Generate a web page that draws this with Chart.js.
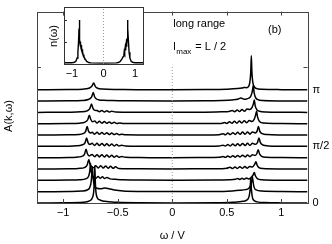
<!DOCTYPE html>
<html>
<head>
<meta charset="utf-8">
<script src="https://cdn.jsdelivr.net/npm/chart.js@4/dist/chart.umd.min.js"></script>
<style>
  html, body { margin: 0; padding: 0; background: #fff; }
  #wrap { position: relative; width: 332px; height: 244px; }
  #main { position: absolute; left: 0; top: 0; }
  #inset { position: absolute; left: 44px; top: 4px; }
</style>
</head>
<body>
<div id="wrap">
  <canvas id="main" width="332" height="244"></canvas>
  <canvas id="inset" width="104" height="76"></canvas>
</div>
<script>
// spectral function A(k,w), one curve per k (k = 0 ... pi in 10 steps), [w, A]
const A_k0 = [[-1.24,0],[-0.95,0.02],[-0.82,0.06],[-0.76,0.18],[-0.73,0.5],[-0.72,1.0],[-0.714,2.0],[-0.71,3.3],[-0.706,2.0],[-0.70,1.0],[-0.69,0.5],[-0.67,0.3],[-0.62,0.15],[-0.5,0.06],[-0.3,0.02],[0,0.01],[0.4,0.02],[0.55,0.06],[0.65,0.15],[0.69,0.3],[0.705,0.6],[0.714,1.2],[0.72,2.2],[0.726,1.2],[0.735,0.5],[0.75,0.22],[0.78,0.1],[0.85,0.04],[1.0,0.01],[1.24,0]];
const A_k1 = [[-1.24,0],[-0.95,0.02],[-0.83,0.06],[-0.78,0.15],[-0.755,0.4],[-0.743,0.9],[-0.737,1.6],[-0.733,2.2],[-0.728,1.5],[-0.72,0.8],[-0.71,0.45],[-0.69,0.3],[-0.66,0.25],[-0.62,0.32],[-0.58,0.26],[-0.53,0.15],[-0.45,0.06],[-0.3,0.02],[0,0.01],[0.4,0.02],[0.55,0.07],[0.62,0.12],[0.67,0.18],[0.7,0.28],[0.72,0.6],[0.73,1.0],[0.735,1.3],[0.742,0.8],[0.75,0.4],[0.77,0.15],[0.82,0.05],[1.0,0.01],[1.24,0]];
const A_k2 = [[-1.24,0],[-0.95,0.02],[-0.85,0.05],[-0.79,0.15],[-0.765,0.4],[-0.755,0.9],[-0.75,1.5],[-0.744,0.9],[-0.735,0.45],[-0.72,0.3],[-0.70,0.18],[-0.68,0.34],[-0.66,0.18],[-0.64,0.32],[-0.62,0.16],[-0.60,0.26],[-0.57,0.13],[-0.52,0.09],[-0.45,0.05],[-0.3,0.02],[0,0.01],[0.4,0.02],[0.52,0.05],[0.58,0.1],[0.6,0.16],[0.62,0.08],[0.64,0.18],[0.66,0.1],[0.68,0.2],[0.70,0.13],[0.72,0.22],[0.74,0.45],[0.752,0.7],[0.762,0.4],[0.78,0.15],[0.82,0.05],[1.0,0.01],[1.24,0]];
const A_k3 = [[-1.24,0],[-0.95,0.02],[-0.86,0.05],[-0.80,0.15],[-0.78,0.35],[-0.765,0.85],[-0.755,0.45],[-0.74,0.22],[-0.72,0.12],[-0.70,0.3],[-0.678,0.09],[-0.655,0.29],[-0.633,0.08],[-0.61,0.27],[-0.588,0.07],[-0.565,0.24],[-0.543,0.06],[-0.52,0.19],[-0.49,0.04],[-0.45,0.03],[-0.3,0.02],[0,0.01],[0.3,0.02],[0.45,0.03],[0.50,0.06],[0.53,0.16],[0.553,0.04],[0.575,0.18],[0.598,0.05],[0.62,0.2],[0.643,0.06],[0.665,0.22],[0.688,0.07],[0.71,0.23],[0.735,0.18],[0.755,0.4],[0.767,0.65],[0.778,0.35],[0.795,0.12],[0.83,0.04],[1.0,0.01],[1.24,0]];
const A_k4 = [[-1.24,0],[-0.95,0.02],[-0.88,0.05],[-0.83,0.12],[-0.805,0.3],[-0.79,0.75],[-0.778,0.35],[-0.76,0.16],[-0.735,0.28],[-0.712,0.08],[-0.69,0.27],[-0.668,0.07],[-0.645,0.26],[-0.622,0.06],[-0.60,0.24],[-0.578,0.05],[-0.555,0.21],[-0.532,0.04],[-0.51,0.17],[-0.488,0.03],[-0.465,0.11],[-0.43,0.03],[-0.3,0.01],[0,0],[0.3,0.01],[0.43,0.03],[0.465,0.1],[0.488,0.03],[0.51,0.15],[0.532,0.04],[0.555,0.18],[0.578,0.05],[0.60,0.2],[0.622,0.06],[0.645,0.22],[0.668,0.07],[0.69,0.24],[0.712,0.09],[0.735,0.25],[0.76,0.2],[0.775,0.35],[0.788,0.7],[0.80,0.35],[0.82,0.12],[0.86,0.04],[1.0,0.01],[1.24,0]];
const A_k5 = [[-1.24,0],[-0.95,0.02],[-0.88,0.05],[-0.83,0.12],[-0.80,0.3],[-0.785,0.75],[-0.773,0.35],[-0.755,0.16],[-0.735,0.27],[-0.712,0.08],[-0.69,0.27],[-0.668,0.07],[-0.645,0.26],[-0.622,0.06],[-0.60,0.24],[-0.578,0.05],[-0.555,0.2],[-0.532,0.04],[-0.51,0.16],[-0.488,0.03],[-0.465,0.1],[-0.43,0.03],[-0.3,0.01],[0,0],[0.3,0.01],[0.43,0.03],[0.465,0.1],[0.488,0.03],[0.51,0.16],[0.532,0.04],[0.555,0.2],[0.578,0.05],[0.60,0.24],[0.622,0.06],[0.645,0.26],[0.668,0.07],[0.69,0.27],[0.712,0.08],[0.735,0.27],[0.762,0.18],[0.782,0.35],[0.795,0.75],[0.807,0.35],[0.83,0.12],[0.88,0.04],[1.0,0.01],[1.24,0]];
const A_k6 = [[-1.24,0],[-0.95,0.02],[-0.86,0.05],[-0.82,0.12],[-0.795,0.3],[-0.78,0.75],[-0.768,0.35],[-0.75,0.18],[-0.735,0.25],[-0.712,0.08],[-0.69,0.24],[-0.668,0.07],[-0.645,0.22],[-0.622,0.06],[-0.60,0.2],[-0.578,0.05],[-0.555,0.17],[-0.532,0.04],[-0.51,0.13],[-0.488,0.03],[-0.465,0.08],[-0.43,0.02],[-0.3,0.01],[0,0],[0.3,0.01],[0.43,0.03],[0.465,0.11],[0.488,0.03],[0.51,0.17],[0.532,0.04],[0.555,0.21],[0.578,0.05],[0.60,0.24],[0.622,0.06],[0.645,0.26],[0.668,0.07],[0.69,0.27],[0.712,0.08],[0.735,0.28],[0.76,0.18],[0.778,0.35],[0.79,0.75],[0.802,0.35],[0.825,0.12],[0.87,0.04],[1.0,0.01],[1.24,0]];
const A_k7 = [[-1.24,0],[-0.95,0.02],[-0.85,0.05],[-0.80,0.14],[-0.775,0.35],[-0.76,0.75],[-0.748,0.4],[-0.73,0.18],[-0.71,0.23],[-0.69,0.06],[-0.668,0.21],[-0.645,0.05],[-0.622,0.19],[-0.60,0.04],[-0.578,0.16],[-0.555,0.03],[-0.532,0.12],[-0.51,0.02],[-0.48,0.07],[-0.45,0.02],[-0.3,0.01],[0,0.01],[0.3,0.02],[0.45,0.03],[0.48,0.1],[0.50,0.03],[0.525,0.17],[0.548,0.04],[0.57,0.21],[0.593,0.05],[0.615,0.24],[0.638,0.07],[0.66,0.26],[0.683,0.09],[0.705,0.28],[0.73,0.2],[0.752,0.4],[0.765,0.8],[0.773,1.1],[0.782,0.6],[0.80,0.2],[0.84,0.06],[1.0,0.01],[1.24,0]];
const A_k8 = [[-1.24,0],[-0.95,0.02],[-0.84,0.05],[-0.78,0.14],[-0.755,0.35],[-0.74,0.75],[-0.728,0.38],[-0.71,0.18],[-0.69,0.16],[-0.668,0.05],[-0.645,0.16],[-0.622,0.04],[-0.60,0.14],[-0.578,0.03],[-0.555,0.11],[-0.52,0.03],[-0.45,0.02],[-0.3,0.01],[0,0.01],[0.3,0.02],[0.45,0.05],[0.52,0.08],[0.55,0.16],[0.572,0.06],[0.595,0.21],[0.617,0.08],[0.64,0.25],[0.662,0.1],[0.685,0.29],[0.71,0.26],[0.732,0.45],[0.745,0.8],[0.752,1.1],[0.76,0.6],[0.775,0.25],[0.80,0.1],[0.86,0.03],[1.0,0.01],[1.24,0]];
const A_k9 = [[-1.24,0],[-0.95,0.02],[-0.83,0.05],[-0.77,0.14],[-0.74,0.35],[-0.724,0.75],[-0.712,0.38],[-0.695,0.18],[-0.67,0.1],[-0.63,0.07],[-0.55,0.04],[-0.4,0.02],[0,0.01],[0.3,0.02],[0.45,0.05],[0.55,0.1],[0.6,0.16],[0.63,0.27],[0.66,0.15],[0.69,0.22],[0.715,0.35],[0.73,0.7],[0.738,1.1],[0.743,1.4],[0.75,0.8],[0.762,0.35],[0.785,0.12],[0.83,0.04],[1.0,0.01],[1.24,0]];
const A_k10 = [[-1.24,0],[-0.95,0.02],[-0.82,0.05],[-0.765,0.13],[-0.738,0.3],[-0.72,0.6],[-0.706,0.3],[-0.685,0.13],[-0.64,0.06],[-0.5,0.03],[-0.3,0.01],[0,0.01],[0.3,0.02],[0.5,0.05],[0.6,0.1],[0.64,0.15],[0.66,0.2],[0.68,0.18],[0.70,0.3],[0.712,0.7],[0.72,1.6],[0.725,3.0],[0.73,1.6],[0.738,0.7],[0.75,0.3],[0.77,0.12],[0.82,0.04],[1.0,0.01],[1.24,0]];
const spectra = [A_k0, A_k1, A_k2, A_k3, A_k4, A_k5, A_k6, A_k7, A_k8, A_k9, A_k10];

// k labels on the right axis (curve index -> label)
const kTickIndex = [0, 5, 10];
const kTickLabels = ['0', 'π/2', 'π'];
const omegaTicks = [-1, -0.5, 0, 0.5, 1];

// inset: momentum distribution n(w)
const nOmega = [[-1.25,0.01],[-1.0,0.01],[-0.92,0.02],[-0.87,0.05],[-0.835,0.12],[-0.81,0.25],[-0.79,0.5],[-0.775,0.8],[-0.765,1.0],[-0.758,0.8],[-0.75,0.55],[-0.742,0.44],[-0.735,0.5],[-0.728,0.38],[-0.72,0.46],[-0.712,0.34],[-0.704,0.42],[-0.696,0.3],[-0.688,0.37],[-0.68,0.27],[-0.672,0.32],[-0.664,0.23],[-0.656,0.27],[-0.645,0.2],[-0.62,0.15],[-0.58,0.09],[-0.53,0.04],[-0.47,0.015],[-0.4,0.005],[0,0],
  [0.4,0.005],[0.47,0.015],[0.53,0.04],[0.58,0.09],[0.62,0.15],[0.645,0.2],[0.656,0.27],[0.664,0.23],[0.672,0.32],[0.68,0.27],[0.688,0.37],[0.696,0.3],[0.704,0.42],[0.712,0.34],[0.72,0.46],[0.728,0.38],[0.735,0.5],[0.742,0.44],[0.75,0.55],[0.758,0.8],[0.765,1.0],[0.775,0.8],[0.79,0.5],[0.81,0.25],[0.835,0.12],[0.87,0.05],[0.92,0.02],[1.0,0.01],[1.25,0.01]];
const insetTicks = [-1, 0, 1];

const FONT = "'Liberation Sans', Arial, Helvetica, sans-serif";
const minus = v => String(v).replace('-', '\u2212');

let datasets = spectra.map(function (curve, i) {
  return {
    data: curve.map(p => ({ x: p[0], y: p[1] + i })),
    showLine: true,
    borderColor: '#000',
    borderWidth: 1.5,
    pointRadius: 0,
    cubicInterpolationMode: 'monotone',
    yAxisID: 'y'
  };
});
// dotted line at w = 0
datasets.unshift({
  data: [{ x: 0, y: 0 }, { x: 0, y: 12.2 }],
  showLine: true,
  borderColor: '#999',
  borderWidth: 1,
  borderDash: [1, 2],
  pointRadius: 0,
  yAxisID: 'y'
});

const mainDecor = {
  id: 'mainDecor',
  afterDraw(chart) {
    const ctx = chart.ctx;
    const a = chart.chartArea;
    const xs = chart.scales.x, ys = chart.scales.y;
    ctx.save();
    ctx.strokeStyle = '#444';
    ctx.lineWidth = 1;
    ctx.strokeRect(Math.round(a.left) + 0.5, Math.round(a.top) + 0.5, Math.round(a.right - a.left), Math.round(a.bottom - a.top));
    ctx.beginPath();
    omegaTicks.forEach(function (t) {
      const px = Math.round(xs.getPixelForValue(t)) + 0.5;
      ctx.moveTo(px, a.top); ctx.lineTo(px, a.top + 4);
      ctx.moveTo(px, a.bottom); ctx.lineTo(px, a.bottom - 4);
    });
    const py = Math.round(ys.getPixelForValue(12)) + 0.5;
    ctx.moveTo(a.left, py); ctx.lineTo(a.left + 4, py);
    ctx.moveTo(a.right, py); ctx.lineTo(a.right - 4, py);
    ctx.stroke();

    ctx.fillStyle = '#000';
    ctx.font = '11px ' + FONT;
    ctx.textBaseline = 'alphabetic';
    ctx.textAlign = 'left';
    const x0 = xs.getPixelForValue(0);
    ctx.fillText('long range', x0 + 1, 27);
    ctx.fillText('l', x0 + 1, 50);
    ctx.fillText('= L / 2', x0 + 23, 50);
    ctx.font = '8px ' + FONT;
    ctx.fillText('max', x0 + 4, 54);
    ctx.font = '11px ' + FONT;
    ctx.fillText('(b)', 268, 33);
    ctx.textAlign = 'center';
    ctx.fillText('\u03c9 / V', (a.left + a.right) / 2, 239);
    ctx.translate(12, 116);
    ctx.rotate(-Math.PI / 2);
    ctx.fillText('A(k,\u03c9)', 0, 0);
    ctx.restore();
  }
};

new Chart(document.getElementById('main'), {
  type: 'scatter',
  data: { datasets: datasets },
  options: {
    responsive: false,
    animation: false,
    events: [],
    layout: { padding: { top: 3, left: 0, right: 0, bottom: 0 } },
    plugins: { legend: { display: false }, tooltip: { enabled: false } },
    scales: {
      x: {
        type: 'linear', position: 'bottom', min: -1.24, max: 1.24,
        afterBuildTicks: s => { s.ticks = omegaTicks.map(v => ({ value: v })); },
        grid: { display: false, drawTicks: false },
        border: { display: false },
        ticks: { padding: 3, color: '#000', font: { size: 11, family: FONT }, autoSkip: false, maxRotation: 0, callback: v => minus(v) },
        afterFit: s => { s.height = 41; }
      },
      y: {
        type: 'linear', position: 'left', min: 0, max: 16.9,
        grid: { display: false, drawTicks: false },
        border: { display: false },
        ticks: { display: false },
        afterFit: s => { s.width = 37; }
      },
      yr: {
        type: 'linear', position: 'right', min: 0, max: 16.9,
        afterBuildTicks: s => { s.ticks = kTickIndex.map(v => ({ value: v })); },
        grid: { display: false, drawTicks: false },
        border: { display: false },
        ticks: { padding: 5, color: '#000', autoSkip: false, font: { size: 11, family: FONT },
          callback: v => kTickLabels[kTickIndex.indexOf(v)] },
        afterFit: s => { s.width = 24.5; }
      }
    }
  },
  plugins: [mainDecor]
});

const insetDecor = {
  id: 'insetDecor',
  beforeDraw(chart) {
    const a = chart.chartArea;
    chart.ctx.save();
    chart.ctx.fillStyle = '#fff';
    chart.ctx.fillRect(a.left, a.top, a.right - a.left, a.bottom - a.top);
    chart.ctx.restore();
  },
  afterDraw(chart) {
    const ctx = chart.ctx;
    const a = chart.chartArea;
    const ys = chart.scales.y;
    ctx.save();
    ctx.strokeStyle = '#333';
    ctx.lineWidth = 1;
    ctx.strokeRect(Math.round(a.left) + 0.5, Math.round(a.top) + 0.5, Math.round(a.right - a.left), Math.round(a.bottom - a.top));
    ctx.beginPath();
    [0.5, 1].forEach(function (t) {
      const py = Math.round(ys.getPixelForValue(t)) + 0.5;
      ctx.moveTo(a.left, py); ctx.lineTo(a.left + 3, py);
    });
    ctx.stroke();
    ctx.fillStyle = '#000';
    ctx.font = '11px ' + FONT;
    ctx.textAlign = 'center';
    ctx.translate(13, 32);
    ctx.rotate(-Math.PI / 2);
    ctx.fillText('n(\u03c9)', 0, 0);
    ctx.restore();
  }
};

new Chart(document.getElementById('inset'), {
  type: 'scatter',
  data: {
    datasets: [
      { data: [{ x: 0, y: -0.02 }, { x: 0, y: 1.3 }], showLine: true, borderColor: '#999', borderWidth: 1, borderDash: [1, 2], pointRadius: 0 },
      { data: nOmega.map(p => ({ x: p[0], y: p[1] })), showLine: true, borderColor: '#000', borderWidth: 1.4, pointRadius: 0 }
    ]
  },
  options: {
    responsive: false,
    animation: false,
    events: [],
    layout: { padding: { top: 3, left: 0, right: 5, bottom: 0 } },
    plugins: { legend: { display: false }, tooltip: { enabled: false } },
    scales: {
      x: {
        type: 'linear', min: -1.25, max: 1.25,
        afterBuildTicks: s => { s.ticks = insetTicks.map(v => ({ value: v })); },
        grid: { display: false, drawTicks: false },
        border: { display: false },
        ticks: { padding: 3, color: '#000', font: { size: 11, family: FONT }, autoSkip: false, maxRotation: 0, callback: v => minus(v) },
        afterFit: s => { s.height = 16; }
      },
      y: {
        type: 'linear', min: -0.02, max: 1.3,
        grid: { display: false, drawTicks: false },
        border: { display: false },
        ticks: { display: false },
        afterFit: s => { s.width = 20; }
      }
    }
  },
  plugins: [insetDecor]
});
</script>
</body>
</html>
